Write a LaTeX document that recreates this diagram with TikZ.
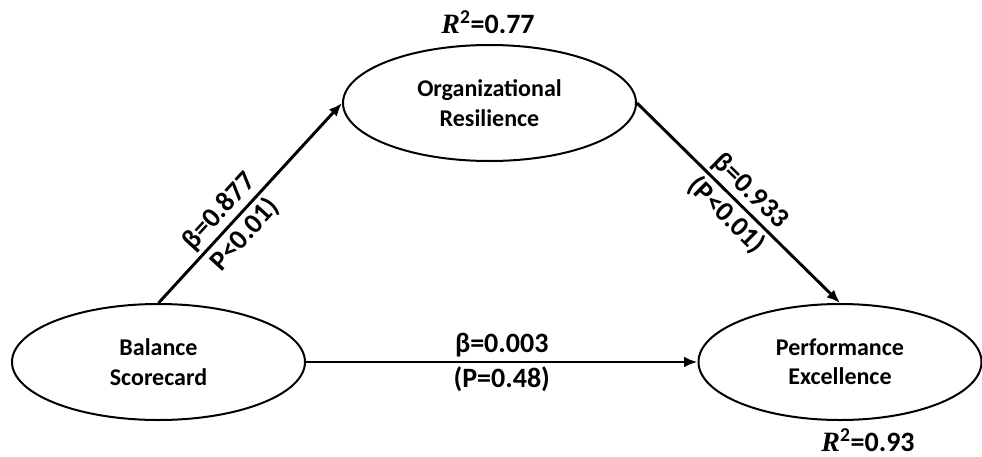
\documentclass[tikz,border=0pt]{standalone}
\usepackage{fontspec}
\usetikzlibrary{shapes.geometric,arrows.meta}
\setmainfont{Carlito}
\newfontfamily\rfont{Liberation Serif}

\begin{document}
\begin{tikzpicture}[x=0.75pt,y=-0.75pt,
    nd/.style={draw,line width=1.5pt,ellipse,minimum width=293*0.75pt,minimum height=116*0.75pt,
      align=center,font=\fontsize{18}{22}\selectfont\bfseries,inner sep=0pt},
    lbl/.style={font=\fontsize{21}{25}\selectfont\bfseries,sloped,inner sep=2.5pt},
    rsq/.style={font=\fontsize{21}{25}\selectfont\bfseries},
    arw/.style={line width=2.2pt,-{Latex[length=10pt,width=8pt]}}]
  \useasboundingbox (0,0) rectangle (982,457);
  \node[nd] (Balance) at (158.5,362) {Balance\\Scorecard};
  \node[nd] (Resilience) at (489.5,103) {Organizational\\Resilience};
  \node[nd,minimum width=283*0.75pt] (Excellence) at (840,362) {Performance\\Excellence};
  \node[rsq] (R1) at (488,22) {{\rfont\bfseries\itshape R}\textsuperscript{2}=0.77};
  \node[rsq] (R2) at (868,440) {{\rfont\bfseries\itshape R}\textsuperscript{2}=0.93};
  \draw[arw] (Balance.north) -- (Resilience.west)
    node[lbl,pos=0.4,above] {β=0.877}
    node[lbl,pos=0.4,below] {P<0.01)};
  \draw[arw] (Resilience.east) -- (Excellence.north)
    node[lbl,pos=0.5,above] {β=0.933}
    node[lbl,pos=0.5,below] {(P<0.01)};
  \draw[arw] (Balance.east) -- (Excellence.west)
    node[lbl,pos=0.5,above] {β=0.003}
    node[lbl,pos=0.5,below] {(P=0.48)};
\end{tikzpicture}
\end{document}
